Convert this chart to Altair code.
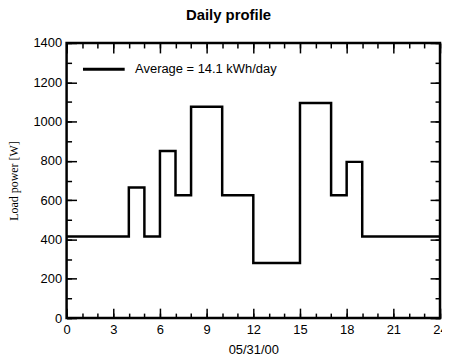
import altair as alt
import pandas as pd

# Data (hourly load, step profile)
hours = list(range(25))
load_w = [415, 415, 415, 415, 665, 415, 850, 625, 1075, 1075, 625, 625,
          280, 280, 280, 1095, 1095, 625, 795, 415, 415, 415, 415, 415, 415]
legend_label = "Average = 14.1 kWh/day"
x_major = [0, 3, 6, 9, 12, 15, 18, 21, 24]
x_minor = list(range(25))
y_major = list(range(0, 1401, 200))
y_minor = list(range(0, 1401, 100))

df = pd.DataFrame({"hour": hours, "load": load_w, "series": legend_label})

FONT = "Liberation Sans"
xs = alt.Scale(domain=[0, 24], nice=False, zero=False)
ys = alt.Scale(domain=[0, 1400], nice=False)

common = dict(domain=False, grid=False, tickColor="black", tickWidth=1.5,
              labelFont=FONT, labelFontSize=13, labelColor="black", format="d")

main = alt.Chart(df).mark_line(interpolate="step-after", strokeWidth=2.5).encode(
    x=alt.X("hour:Q", scale=xs, axis=alt.Axis(
        orient="bottom", values=x_major, offset=-10, tickSize=10, labelPadding=6,
        labelFlush=False, title="05/31/00", titleFont=FONT, titleFontSize=13,
        titleFontWeight="normal", titleColor="black", titlePadding=7, **common)),
    y=alt.Y("load:Q", scale=ys, axis=alt.Axis(
        orient="left", values=y_major, offset=-10, tickSize=10, labelPadding=5,
        title="Load power [W]", titleFont="Liberation Serif", titleFontSize=12,
        titleFontWeight="normal", titleColor="black", titlePadding=13, **common)),
    color=alt.Color("series:N",
                    scale=alt.Scale(domain=[legend_label], range=["black"]),
                    legend=alt.Legend(orient="none", legendX=15, legendY=4, title=None,
                                      symbolType="stroke", symbolSize=1764,
                                      symbolStrokeWidth=3, labelFont=FONT,
                                      labelFontSize=13, labelColor="black",
                                      labelOffset=9, padding=0)),
)

def tick_layer(xorient, xvals, xsize, yorient, yvals, ysize):
    return alt.Chart(df).mark_line(opacity=0).encode(
        x=alt.X("hour:Q", scale=xs, axis=alt.Axis(
            orient=xorient, values=xvals, offset=-xsize, tickSize=xsize,
            labels=False, title=None, **common)),
        y=alt.Y("load:Q", scale=ys, axis=alt.Axis(
            orient=yorient, values=yvals, offset=-ysize, tickSize=ysize,
            labels=False, title=None, **common)),
    )

minor_bl = tick_layer("bottom", x_minor, 5, "left", y_minor, 5)
major_tr = tick_layer("top", x_major, 10, "right", y_major, 10)
minor_tr = tick_layer("top", x_minor, 5, "right", y_minor, 5)

chart = alt.layer(main, minor_bl, major_tr, minor_tr).resolve_axis(
    x="independent", y="independent"
).properties(
    width=376, height=277,
    autosize=alt.AutoSizeParams(type="none"),
    padding={"left": 59, "top": 34, "right": 2, "bottom": 44},
    title=alt.TitleParams("Daily profile", font=FONT, fontSize=15, fontWeight="bold",
                          color="black", anchor="middle", offset=14, dx=-25),
).configure_view(stroke="black", strokeWidth=2.5)

chart.save("out.html", embed_options={"renderer": "svg", "actions": False})
